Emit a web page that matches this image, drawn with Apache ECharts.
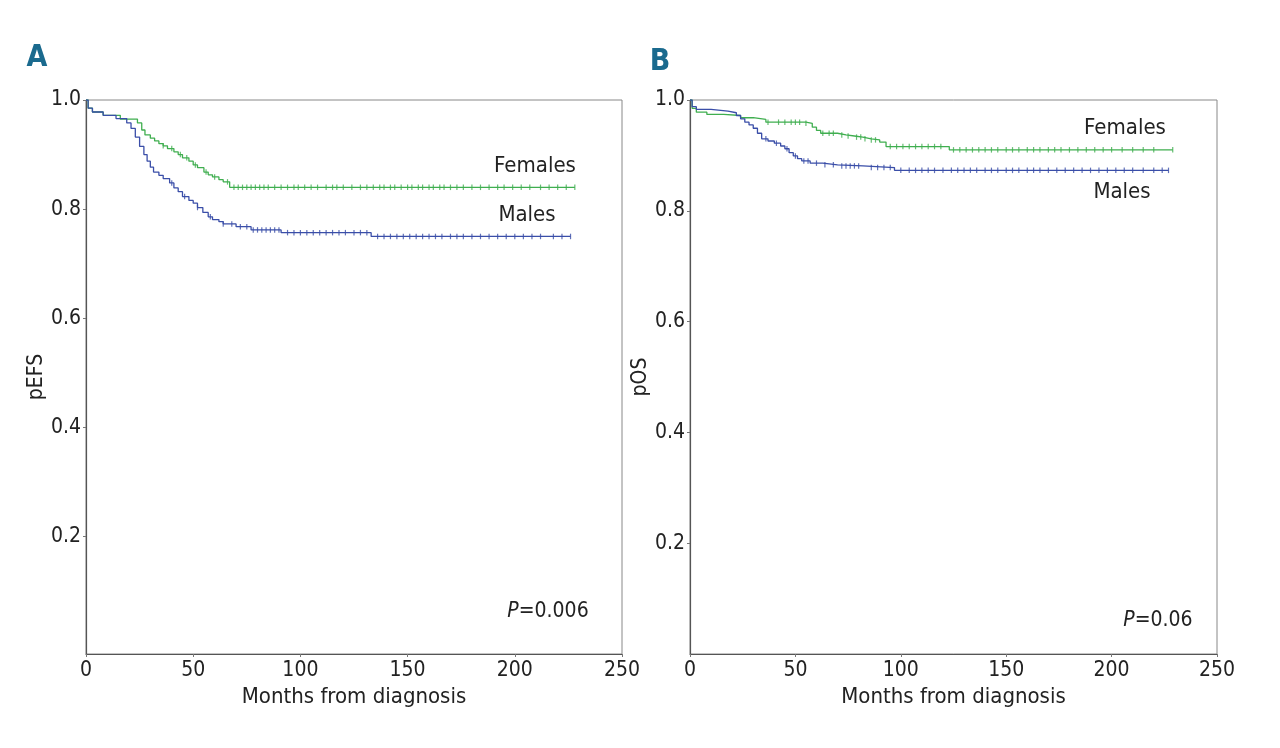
<!DOCTYPE html>
<html>
<head>
<meta charset="utf-8">
<script src="https://cdn.jsdelivr.net/npm/echarts@6/dist/echarts.min.js"></script>
<style>html,body{margin:0;padding:0;background:#fff}#c{width:1280px;height:748px}</style>
</head>
<body>
<div id="c"></div>
<script>
// ---- data ----
var xTicks = [0, 50, 100, 150, 200, 250];
var yTicks = [0.2, 0.4, 0.6, 0.8, 1.0];

// Panel A: pEFS
var efsFemT = [0,1,3,8,16,24,26,27.5,30,32,34,36,38,41,43,45,48,50,52,55,57,59,62,64,67,228];
var efsFemS = [1,0.985,0.978,0.972,0.965,0.958,0.945,0.936,0.93,0.925,0.92,0.916,0.911,0.905,0.9,0.894,0.888,0.881,0.876,0.868,0.863,0.859,0.854,0.85,0.84,0.84];
var efsMaleT = [0,1,3,8,14,19,21,23,25,27,28.5,30,31.5,34,36,39,41,43,45,48,50,52,54.5,57,59,62,64,70,77,91,133,226];
var efsMaleS = [1,0.985,0.978,0.972,0.966,0.958,0.948,0.932,0.915,0.9,0.888,0.877,0.868,0.862,0.856,0.848,0.839,0.832,0.823,0.816,0.811,0.803,0.794,0.786,0.781,0.777,0.773,0.768,0.762,0.757,0.75,0.75];
var efsFemCens = [36,40,44,47,51,56,60,66,69,71,73,75,77,79,81,83,85,88,91,94,97,99,102,105,108,112,115,117,120,124,128,131,134,137,139,142,144,147,150,152,155,157,160,162,165,167,170,173,176,180,184,188,192,195,199,203,207,212,216,220,224,228];
var efsMaleCens = [40,46,52,58,64,68,72,75,78,80,82,84,86,88,90,94,97,100,103,106,109,112,115,118,121,125,128,131,136,139,142,145,148,151,154,157,160,163,166,170,173,176,180,184,188,192,196,200,204,208,212,218,222,226];

// Panel B: pOS
var osFemT = [0,1,3,8,16,24,30,36,55,58,60,62,70,74,78,82,86,90,93,123,229];
var osFemS = [1,0.985,0.978,0.974,0.972,0.968,0.965,0.96,0.958,0.951,0.945,0.94,0.937,0.935,0.933,0.93,0.928,0.924,0.916,0.91,0.91];
var osMaleT = [0,1,3,10,18,22,24,26,28,30,32,34,37,40,43,45,47,49,51,53,57,63,70,82,97,227];
var osMaleS = [1,0.988,0.983,0.98,0.977,0.972,0.966,0.96,0.955,0.949,0.94,0.93,0.926,0.922,0.917,0.912,0.905,0.899,0.894,0.89,0.886,0.883,0.881,0.878,0.873,0.873];
var osFemCens = [37,42,45,48,50,52,55,63,66,68,72,75,79,81,83,86,88,95,98,101,104,107,110,113,116,119,125,128,131,134,137,140,143,146,150,153,156,160,163,166,170,173,176,180,184,188,192,196,200,205,210,215,220,229];
var osMaleCens = [36,41,46,50,54,56,60,64,68,72,74,76,78,80,86,89,92,95,100,104,107,110,113,116,120,124,127,130,133,136,140,143,146,150,153,156,160,163,166,170,174,178,182,186,190,194,198,202,206,210,215,220,224,227];

// ---- helpers ----
var F = '"Liberation Sans Narrow","DejaVu Sans Condensed","Roboto Condensed",sans-serif';
var GREEN = '#3fae4f', BLUE = '#3a4ea8';
function pairs(T, S){ return T.map(function(t,i){ return [t, S[i]]; }); }
function survAt(T, S, t){ var v = S[0]; for (var i=0;i<T.length;i++){ if (T[i] <= t) v = S[i]; } return v; }
function cens(T, S, C){ return C.map(function(t){ return [t, survAt(T,S,t)]; }); }

function xAxis(idx){
  return {
    gridIndex: idx, type: 'value', min: 0, max: 250, interval: 50,
    name: 'Months from diagnosis', nameLocation: 'middle', nameGap: 32,
    nameTextStyle: {fontFamily: F, fontSize: 22, color: '#222'},
    axisLine: {show: true, onZero: false, lineStyle: {color: '#555', width: 1.2}},
    axisTick: {show: true, length: 3, lineStyle: {color: '#777'}},
    axisLabel: {fontFamily: F, fontSize: 21, color: '#222', margin: 6},
    splitLine: {show: false}
  };
}
function yAxis(idx, name, min){
  return {
    gridIndex: idx, type: 'value', min: min, max: 1,
    name: name, nameLocation: 'middle', nameGap: 36,
    nameTextStyle: {fontFamily: F, fontSize: 21, color: '#222'},
    axisLine: {show: true, onZero: false, lineStyle: {color: '#555', width: 1.2}},
    axisTick: {show: true, length: 3, customValues: yTicks, lineStyle: {color: '#777'}},
    axisLabel: {fontFamily: F, fontSize: 21, color: '#222', margin: 5, customValues: yTicks,
      formatter: function(v){ return v.toFixed(1); }},
    splitLine: {show: false}
  };
}
function line(idx, T, S, color){
  return {type: 'line', xAxisIndex: idx, yAxisIndex: idx, step: 'end', data: pairs(T,S),
    showSymbol: false, symbol: 'none', lineStyle: {color: color, width: 1.3}, silent: true, z: 3};
}
function marks(idx, T, S, C, color){
  return {type: 'scatter', xAxisIndex: idx, yAxisIndex: idx, data: cens(T,S,C),
    symbol: 'rect', symbolSize: [1.2, 5.5], itemStyle: {color: color}, silent: true, z: 4};
}
function txt(x, y, s, size, extra){
  var st = {text: s, x: x, y: y, fontFamily: F, fontSize: size, fill: '#222', align: 'center', verticalAlign: 'middle'};
  if (extra) for (var k in extra) st[k] = extra[k];
  return {type: 'text', style: st, z: 10};
}

var chart = echarts.init(document.getElementById('c'), null, {renderer: 'canvas'});
chart.setOption({
  backgroundColor: '#fff',
  animation: false,
  grid: [
    {left: 86, right: 658, top: 100, bottom: 94, show: true, borderColor: '#888', borderWidth: 1, containLabel: false},
    {left: 690, right: 63, top: 100, bottom: 94, show: true, borderColor: '#888', borderWidth: 1, containLabel: false}
  ],
  xAxis: [xAxis(0), xAxis(1)],
  yAxis: [yAxis(0, 'pEFS', -0.015), yAxis(1, 'pOS', 0)],
  series: [
    line(0, efsFemT, efsFemS, GREEN),
    line(0, efsMaleT, efsMaleS, BLUE),
    marks(0, efsFemT, efsFemS, efsFemCens, GREEN),
    marks(0, efsMaleT, efsMaleS, efsMaleCens, BLUE),
    line(1, osFemT, osFemS, GREEN),
    line(1, osMaleT, osMaleS, BLUE),
    marks(1, osFemT, osFemS, osFemCens, GREEN),
    marks(1, osMaleT, osMaleS, osMaleCens, BLUE)
  ],
  graphic: [
    txt(37, 58, 'A', 30, {fontWeight: 'bold', fill: '#1a6a8e'}),
    txt(660, 62, 'B', 30, {fontWeight: 'bold', fill: '#1a6a8e'}),
    txt(535, 166, 'Females', 22),
    txt(527, 215, 'Males', 22),
    txt(1125, 128, 'Females', 22),
    txt(1122, 192, 'Males', 22),
    {type: 'text', z: 10, style: {text: '{i|P}=0.006', x: 548, y: 612, align: 'center', verticalAlign: 'middle',
      fontFamily: F, fontSize: 21, fill: '#222', rich: {i: {fontStyle: 'italic', fontFamily: F, fontSize: 21, fill: '#222'}}}},
    {type: 'text', z: 10, style: {text: '{i|P}=0.06', x: 1158, y: 621, align: 'center', verticalAlign: 'middle',
      fontFamily: F, fontSize: 21, fill: '#222', rich: {i: {fontStyle: 'italic', fontFamily: F, fontSize: 21, fill: '#222'}}}}
  ]
});
</script>
</body>
</html>
